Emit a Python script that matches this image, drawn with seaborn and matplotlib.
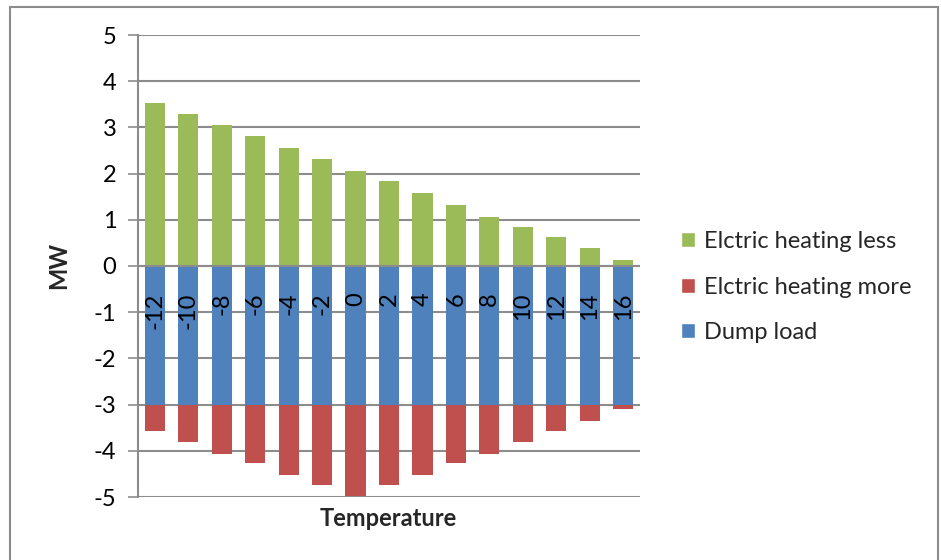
import matplotlib
matplotlib.use("Agg")
import matplotlib.pyplot as plt
from matplotlib.patches import Patch, Rectangle
import seaborn as sns
import numpy as np

# Outdoor temperature categories (deg C)
temperatures = ["-12", "-10", "-8", "-6", "-4", "-2", "0", "2", "4", "6", "8", "10", "12", "14", "16"]

# Power balance per temperature step (MW)
heating_less = [3.52, 3.30, 3.05, 2.81, 2.55, 2.31, 2.05, 1.83, 1.59, 1.33, 1.07, 0.84, 0.62, 0.38, 0.12]
heating_more = [-0.57, -0.81, -1.07, -1.26, -1.52, -1.74, -1.98, -1.74, -1.52, -1.26, -1.07, -0.81, -0.57, -0.35, -0.10]
dump_load = [-3, -3, -3, -3, -3, -3, -3, -3, -3, -3, -3, -3, -3, -3, -3]

series_labels = ["Elctric heating less", "Elctric heating more", "Dump load"]
yticks = [5, 4, 3, 2, 1, 0, -1, -2, -3, -4, -5]

GREEN = "#9BBB59"
RED = "#C0504D"
BLUE = "#4F81BD"
GRID = "#8C8C8C"

sns.set_theme(style="white")
plt.rcParams["font.family"] = ["Lato", "DejaVu Sans"]

fig = plt.figure(figsize=(9.41, 5.60), dpi=100)
ax = fig.add_axes([138 / 941, 1 - 497 / 560, (640 - 138) / 941, (497 - 35) / 560])

# Stacked negative part: the red segment hangs below the dump load
more_total = list(np.array(dump_load) + np.array(heating_more))

common = dict(ax=ax, width=0.6, saturation=1, order=temperatures, zorder=2,
              linewidth=0, edgecolor="none")
sns.barplot(x=temperatures, y=more_total, color=RED, **common)
sns.barplot(x=temperatures, y=dump_load, color=BLUE, **common)
sns.barplot(x=temperatures, y=heating_less, color=GREEN, **common)

ax.set_xlim(-0.5, len(temperatures) - 0.5)
ax.set_ylim(-5, 5)
ax.set_yticks(yticks)
ax.set_yticklabels([str(v) for v in yticks], fontsize=17, color="#000000")

# Horizontal gridlines behind the bars, zero axis line in front
for v in yticks:
    ax.axhline(v, color=GRID, lw=1.5, zorder=1)
ax.axhline(0, color=GRID, lw=1.5, zorder=3)

for side in ["top", "right", "bottom"]:
    ax.spines[side].set_visible(False)
ax.spines["left"].set_color(GRID)
ax.spines["left"].set_linewidth(1.5)
ax.tick_params(axis="y", direction="out", length=7.5, width=1.2, color=GRID, pad=8, left=True)
ax.tick_params(axis="x", length=0, labelbottom=False)

# Category labels sit next to the zero axis, rotated
for i, t in enumerate(temperatures):
    ax.annotate(t, xy=(i, 0), xytext=(0, -19), textcoords="offset points",
                rotation=90, ha="center", va="top", fontsize=17, color="#000000",
                zorder=4)

ax.set_xlabel("")
ax.set_ylabel("")
fig.text(388 / 941, 1 - 519 / 560, "Temperature", ha="center", va="center",
         fontsize=17, fontweight="bold")
fig.text(59 / 941, 1 - 265 / 560, "MW", ha="center", va="center", rotation=90,
         fontsize=17, fontweight="bold")

handles = [Patch(facecolor=GREEN), Patch(facecolor=RED), Patch(facecolor=BLUE)]
fig.legend(handles, series_labels, loc="center left",
           bbox_to_anchor=(681 / 941, 1 - 287 / 560), frameon=False,
           fontsize=17, handlelength=0.6, handleheight=0.6,
           handletextpad=0.38, labelspacing=1.05, borderpad=0, borderaxespad=0)

# Chart-area border
fig.patches.append(Rectangle((10 / 941, -0.05), 928 / 941, 1 - 7 / 560 + 0.05,
                             transform=fig.transFigure, fill=False,
                             edgecolor="#8C8C8C", lw=1.5, zorder=0))

fig.savefig("out.png", dpi=100)
